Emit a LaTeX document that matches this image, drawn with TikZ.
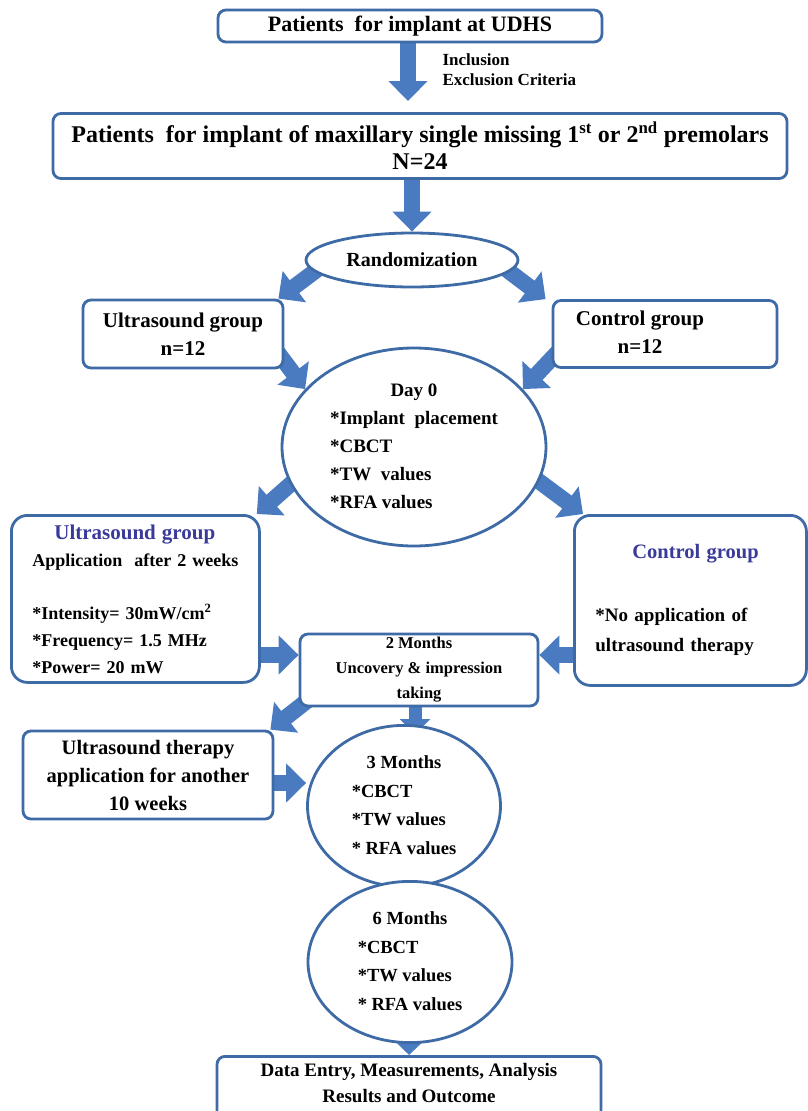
\documentclass[tikz,border=0pt]{standalone}
\usepackage{fontspec}
\setmainfont{Liberation Serif}
\usetikzlibrary{arrows.meta,shapes.geometric,backgrounds}

\definecolor{boxblue}{RGB}{62,106,166}
\definecolor{arrowblue}{RGB}{74,122,192}
\definecolor{titleblue}{RGB}{58,58,155}

\newcommand{\fsz}[2]{\fontsize{#1}{#2}\selectfont}

\tikzset{
  box/.style={draw=boxblue, line width=2.8pt, rounded corners=8pt, fill=white,
    align=center, inner sep=2pt},
  bigbox/.style={box, rounded corners=16pt, align=left, text width=#1,
    inner xsep=21pt},
  oval/.style={draw=boxblue, ellipse, line width=2.8pt, fill=white, inner sep=0pt},
  blockarrow/.style={draw=arrowblue, line width=16pt,
    -{Triangle[width=38pt,length=20pt]}},
  smallarrow/.style={blockarrow, line width=13pt,
    -{Triangle[width=30pt,length=15pt]}},
}

\begin{document}
\begin{tikzpicture}[x=1pt, y=-1pt, font=\bfseries]

    \useasboundingbox (0,0) rectangle (808,1111);

    % Top of the flow
    \node[box, minimum width=384, minimum height=32, font=\bfseries\fsz{22}{24}]
        (udhs) at (410,26) {Patients\ \ for implant at UDHS};

    \node[anchor=north west, align=left, font=\bfseries\fsz{17}{20}]
        (crit) at (439,50) {Inclusion\\Exclusion Criteria};

    \node[box, minimum width=734, minimum height=65, font=\bfseries\fsz{24}{27}]
        (pool) at (420,146) {Patients\ \ for implant of maxillary single missing
        1\textsuperscript{st} or 2\textsuperscript{nd} premolars\\N=24};

    \node[oval, minimum width=212, minimum height=54, font=\bfseries\fsz{20}{22}]
        (rand) at (412,260) {Randomization};

    % Groups
    \node[box, minimum width=200, minimum height=68, font=\bfseries\fsz{21}{28}]
        (ugrp) at (183,334) {Ultrasound group\\n=12};

    \node[box, minimum width=224, minimum height=67, font=\bfseries\fsz{21}{28}]
        (cgrp) at (665,334) {\begin{tabular}{@{}c@{\hspace{50pt}}}
            Control group\\ n=12\end{tabular}};

    % Day 0
    \node[oval, minimum width=264, minimum height=140, font=\bfseries\fsz{19}{28}]
        (day0) at (414,447) {\begin{tabular}{@{}l@{}}
            \multicolumn{1}{c}{Day 0}\\ {*}Implant\ \ placement\\ {*}CBCT\\
            {*}TW\ \ values\\ {*}RFA values\end{tabular}};

    % Treatment arms
    \node[bigbox=206pt, minimum height=167, anchor=north west,
        font=\bfseries\fsz{18}{27}]
        (uarm) at (10,514) {\hspace*{22pt}{\color{titleblue}\fsz{21}{27}Ultrasound group}\\
        Application\ \ after 2 weeks\\[26pt]
        {*}Intensity= 30mW/cm\textsuperscript{2}\\
        {*}Frequency= 1.5 MHz\\
        {*}Power= 20 mW};

    \node[bigbox=190pt, minimum height=170, anchor=north west,
        font=\bfseries\fsz{19}{30}]
        (carm) at (573,514) {\hspace*{37pt}{\color{titleblue}\fsz{20.5}{30}Control group}\\[33pt]
        {*}No application of\\
        ultrasound therapy\\[52pt]};

    \node[box, minimum width=238, minimum height=72, font=\bfseries\fsz{16.5}{25}]
        (mon2) at (419,670) {2 Months\\Uncovery \& impression\\taking};

    % Follow-up
    \node[box, minimum width=250, minimum height=88, font=\bfseries\fsz{20.5}{28}]
        (ther) at (148,775) {Ultrasound therapy\\application for another\\10 weeks};

    \node[oval, minimum width=193, minimum height=123, font=\bfseries\fsz{18.5}{28.5}]
        (mon3) at (404,806) {\begin{tabular}{@{}l@{}}
            \multicolumn{1}{c}{3 Months}\\ {*}CBCT\\ {*}TW values\\ {*} RFA values
            \end{tabular}};

    \node[oval, minimum width=204, minimum height=129, font=\bfseries\fsz{18.5}{28.5}]
        (mon6) at (410,962) {\begin{tabular}{@{}l@{}}
            \multicolumn{1}{c}{6 Months}\\ {*}CBCT\\ {*}TW values\\ {*} RFA values
            \end{tabular}};

    \node[box, minimum width=384, minimum height=66, anchor=north,
        font=\bfseries\fsz{19}{26}]
        (outc) at (409,1055) {\begin{tabular}{@{}c@{}}
            Data Entry,\ Measurements, Analysis\\ Results and Outcome\\[12pt]
            \end{tabular}};

    % Free arrow ends
    \coordinate (tip1) at (408,101);
    \coordinate (tip3) at (415,734);

    % Block arrows
    \begin{pgfonlayer}{background}
    \draw[blockarrow] (udhs.center -| tip1) -- (tip1);
    \draw[blockarrow] (pool.center -| rand.north) -- (rand.north);
    \draw[blockarrow] ([xshift=-82pt]rand.center) -- ([xshift=-6pt]ugrp.north east);
    \draw[blockarrow] ([xshift=82pt]rand.center) -- ([xshift=-6pt]cgrp.north west);
    \draw[blockarrow] ([xshift=-10pt,yshift=-14pt]ugrp.east) -- (day0.152);
    \draw[blockarrow] ([xshift=10pt,yshift=-14pt]cgrp.west) -- (day0.28);
    \draw[blockarrow] ([xshift=-95pt,yshift=-12pt]day0.center) -- ([xshift=-4pt]uarm.north east);
    \draw[blockarrow] ([xshift=95pt,yshift=-12pt]day0.center) -- ([xshift=10pt]carm.north west);
    \draw[blockarrow] (uarm.center |- 0,655) -- (mon2.west |- 0,655);
    \draw[blockarrow] (carm.center |- 0,655) -- (mon2.east |- 0,655);
    \draw[blockarrow] ([xshift=18pt,yshift=14pt]mon2.south west) -- ([xshift=-4pt]ther.north east);
    \draw[smallarrow] (mon2.center -| tip3) -- (tip3);
    \draw[blockarrow] (ther.center |- 0,783) -- (mon3.west |- 0,783);
    \draw[smallarrow] (mon3.center -| mon6.north) -- (mon6.north);
    \draw[smallarrow] (mon6.center) -- (outc.north);
    \end{pgfonlayer}

\end{tikzpicture}
\end{document}
